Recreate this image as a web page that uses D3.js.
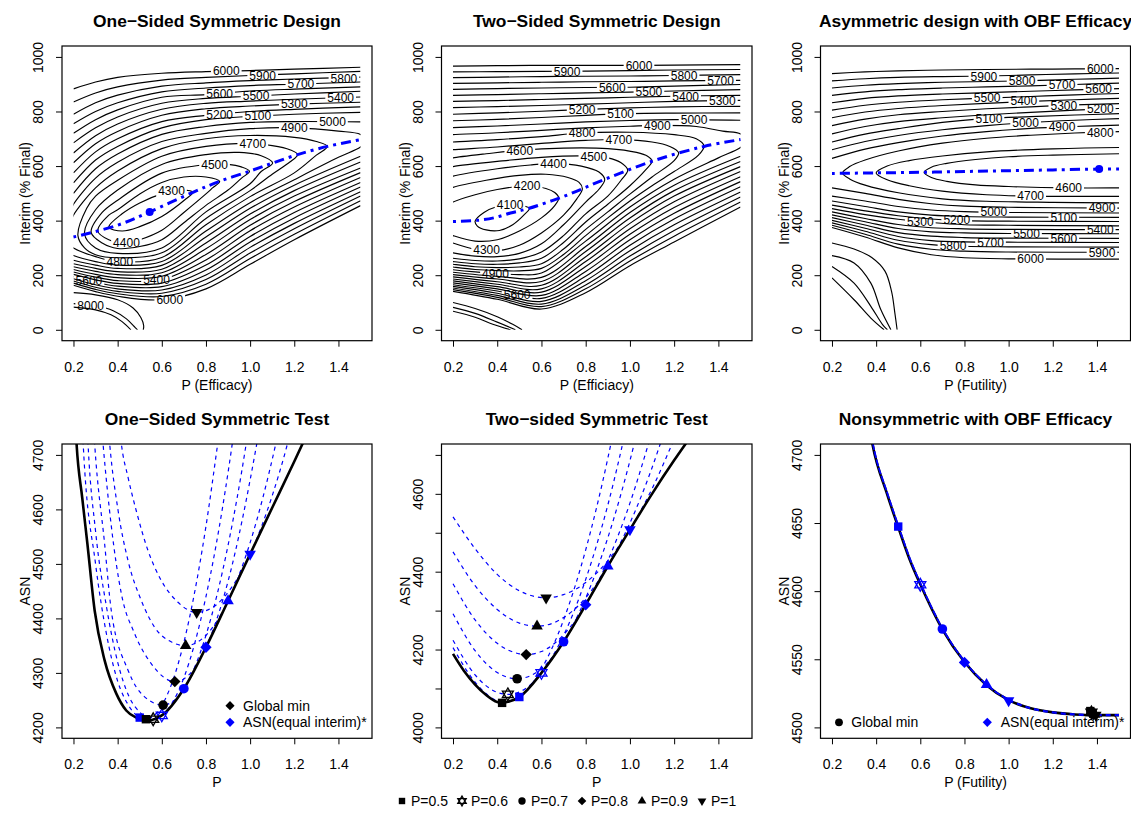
<!DOCTYPE html>
<html><head><meta charset="utf-8">
<script src="https://cdn.jsdelivr.net/npm/d3@7"></script>
<style>body{margin:0;background:#fff}</style>
</head><body><svg id="c" width="1131" height="816"></svg>
<script>
// ---------------- DATA ----------------
// Top-left: One-Sided Symmetric Design
const tlValley=[[0.2,340],[0.395,382],[0.545,432],[0.741,504],[0.862,544],[0.997,581],[1.102,611],[1.215,642],[1.35,672],[1.5,697]];
const tlMin=[0.545,432];
const tlLoopLevels=[4300,4400,4500,4600,4700];
const tlLoopPts=[
 [[0.36,376],[0.42,425],[0.5,465],[0.6,498],[0.68,512],[0.741,504],[0.71,480],[0.6,415],[0.5,378],[0.42,362]],
 [[0.31,362],[0.36,420],[0.4,440],[0.5,498],[0.6,540],[0.7,560],[0.8,560],[0.862,544],[0.83,520],[0.8,498],[0.7,430],[0.6,365],[0.5,330],[0.44,318],[0.36,330]],
 [[0.28,357],[0.33,430],[0.4,475],[0.6,574],[0.8,605],[0.9,606],[0.96,597],[0.997,581],[0.96,555],[0.9,512],[0.8,456],[0.7,392],[0.6,330],[0.5,305],[0.4,298],[0.33,318]],
 [[0.25,352],[0.3,440],[0.4,512],[0.6,606],[0.8,642],[0.95,650],[1.05,638],[1.102,611],[1.05,580],[1.0,535],[0.8,432],[0.6,300],[0.4,280],[0.3,300]],
 [[0.22,346],[0.26,445],[0.3,490],[0.4,548],[0.6,636],[0.8,672],[1.0,683],[1.1,675],[1.18,660],[1.215,642],[1.18,615],[1.1,570],[1.0,510],[0.8,408],[0.6,282],[0.4,264],[0.3,275],[0.25,300]]
];
const tlOpenLevels=[4800,4900,7000,8000,9000];
const tlOpenPts=[
 [[0.19,400],[0.2,420],[0.3,520],[0.4,582],[0.6,664],[0.8,700],[1.0,712],[1.2,705],[1.3,690],[1.35,672],[1.3,640],[1.2,575],[1.0,488],[0.8,385],[0.6,265],[0.4,250],[0.3,268],[0.2,300],[0.19,306]],
 [[0.19,440],[0.2,460],[0.3,556],[0.4,614],[0.6,690],[0.8,720],[1.0,737],[1.2,740],[1.4,728],[1.5,716],[1.53,693],[1.5,670],[1.4,632],[1.2,550],[1.0,466],[0.8,362],[0.6,250],[0.4,237],[0.3,250],[0.2,272],[0.19,276]],
 [[0.2,136],[0.3,128],[0.4,110],[0.47,80],[0.505,45],[0.518,15],[0.516,0]],
 [[0.2,96],[0.3,88],[0.38,70],[0.44,40],[0.475,12],[0.49,0]],
 [[0.2,83],[0.3,73],[0.37,55],[0.42,30],[0.46,0]]
];
const tlBranchLevels=[5000,5100,5200,5300,5400,5500,5600,5700,5800,5900,6000];
const tlCols=[0.2,0.3,0.4,0.6,0.8,1.0,1.2,1.5];
const tlUpperY=[
 [500,590,644,716,745,760,763,762],
 [538,622,672,740,770,782,790,797],
 [575,652,700,763,786,800,808,817],
 [612,682,727,786,810,820,827,834],
 [648,711,754,808,830,838,845,853],
 [685,740,780,830,848,856,864,874],
 [720,770,806,852,862,875,882,890],
 [755,800,832,872,886,895,900,908],
 [790,832,860,893,905,913,919,926],
 [835,868,890,915,925,932,938,947],
 [883,908,925,940,946,950,955,962]
];
const tlLowerY=[
 [255,237,225,236,340,445,530,636],
 [242,225,213,222,318,424,510,615],
 [231,214,202,209,297,404,490,593],
 [221,203,191,196,276,383,470,576],
 [212,193,180,184,256,363,450,558],
 [203,183,170,171,237,342,430,540],
 [195,174,160,158,219,322,410,523],
 [187,165,150,146,201,302,390,506],
 [179,156,141,134,184,281,370,490],
 [171,148,132,122,167,261,350,473],
 [163,140,123,110,150,240,330,455]
];
const tlLabels=[[6000,0.892,949],[5900,1.057,933],[5800,1.425,922],[5700,1.23,901],[5600,0.862,866],[5500,1.027,857],[5400,1.41,851],[5300,1.2,827],[5200,0.862,790],[5100,1.035,783],[5000,1.373,762],[4900,1.2,740],[4700,1.012,683],[4500,0.839,606],[4300,0.644,508],[4400,0.44,318],[4800,0.41,250],[5400,0.576,183],[6000,0.636,112],[8000,0.278,90],[5600,0.27,181]];

// Top-middle: Two-Sided Symmetric Design
const tmValley=[[0.2,397],[0.309,401],[0.384,410],[0.46,428],[0.535,443],[0.701,489],[0.882,550],[1.109,620],[1.335,672],[1.5,697]];
const tmLoopLevels=[4100];
const tmLoopPts=[[[0.30,398],[0.34,430],[0.40,452],[0.46,459],[0.51,455],[0.545,445],[0.52,420],[0.47,385],[0.41,364],[0.35,366],[0.31,380]]];
const tmOpenLevels=[4200,4300,4400,4500,4600,4700,4800,4900,7000,8000,9000];
const tmOpenPts=[
 [[0.19,462],[0.2,468],[0.3,495],[0.4,514],[0.53,527],[0.62,518],[0.66,503],[0.678,483],[0.66,455],[0.6,410],[0.5,362],[0.4,330],[0.3,325],[0.2,345],[0.19,348]],
 [[0.19,518],[0.2,522],[0.35,548],[0.5,566],[0.62,570],[0.72,558],[0.77,540],[0.785,517],[0.76,480],[0.7,420],[0.6,355],[0.5,310],[0.4,290],[0.3,295],[0.2,318],[0.19,321]],
 [[0.19,560],[0.2,563],[0.4,590],[0.55,604],[0.66,609],[0.78,600],[0.86,578],[0.886,550],[0.86,515],[0.8,468],[0.7,385],[0.6,315],[0.5,280],[0.4,268],[0.3,270],[0.2,282],[0.19,284]],
 [[0.19,596],[0.2,598],[0.4,617],[0.6,632],[0.8,637],[0.9,630],[0.96,612],[0.99,585],[0.96,548],[0.9,490],[0.8,425],[0.7,345],[0.6,285],[0.5,260],[0.4,252],[0.3,254],[0.2,262],[0.19,263]],
 [[0.19,628],[0.2,630],[0.35,645],[0.5,658],[0.7,666],[0.9,664],[1.03,650],[1.08,636],[1.1,618],[1.07,585],[1.0,528],[0.9,460],[0.8,395],[0.7,320],[0.6,262],[0.5,245],[0.4,240],[0.3,242],[0.2,250],[0.19,251]],
 [[0.19,659],[0.2,660],[0.4,670],[0.6,683],[0.8,694],[0.95,697],[1.1,688],[1.18,672],[1.22,649],[1.2,620],[1.1,560],[1.0,497],[0.9,432],[0.8,368],[0.7,296],[0.6,242],[0.5,230],[0.4,228],[0.3,231],[0.2,240],[0.19,241]],
 [[0.19,687],[0.2,688],[0.4,697],[0.6,708],[0.78,721],[1.0,724],[1.2,715],[1.3,700],[1.335,673],[1.31,640],[1.2,580],[1.1,528],[1.0,472],[0.9,410],[0.8,345],[0.7,276],[0.6,225],[0.5,216],[0.4,217],[0.3,221],[0.2,230],[0.19,231]],
 [[0.19,714],[0.2,715],[0.4,722],[0.6,731],[0.8,740],[1.0,746],[1.12,749],[1.3,745],[1.42,728],[1.5,718],[1.53,693],[1.5,668],[1.4,630],[1.2,552],[1.0,450],[0.8,325],[0.6,208],[0.5,202],[0.4,206],[0.3,212],[0.2,220],[0.19,221]],
 [[0.2,100],[0.3,78],[0.4,48],[0.47,20],[0.512,0]],
 [[0.2,82],[0.3,60],[0.4,28],[0.482,0]],
 [[0.2,68],[0.3,46],[0.38,20],[0.46,0]]
];
const tmBranchLevels=[5000,5100,5200,5300,5400,5500,5600,5700,5800,5900,6000];
const tmCols=[0.2,0.4,0.6,0.8,1.0,1.2,1.5];
const tmUpperY=[
 [741,747,754,762,767,770,768],
 [766,771,778,786,792,794,795],
 [790,795,801,808,813,817,819],
 [814,818,822,827,832,837,841],
 [837,840,844,848,852,856,859],
 [859,862,865,868,871,875,880],
 [881,884,886,888,889,893,899],
 [903,905,907,909,910,912,914],
 [924,926,928,929,930,932,935],
 [945,946,947,948,950,952,954],
 [966,968,969,969,969,970,972]
];
const tmLowerY=[
 [211,196,192,305,430,530,636],
 [202,186,177,287,410,510,617],
 [194,176,163,268,390,490,598],
 [186,167,150,250,370,469,580],
 [179,158,138,232,350,448,561],
 [172,150,126,214,330,427,543],
 [165,142,115,196,310,406,524],
 [159,134,104,180,290,385,505],
 [153,126,94,164,270,364,487],
 [147,119,85,150,252,343,468],
 [141,112,76,136,235,322,450]
];
const tmLabels=[[6000,1.041,969],[5900,0.716,947],[5800,1.245,932],[5700,1.41,913],[5600,0.92,889],[5500,1.086,873],[5400,1.252,856],[5300,1.418,840],[5200,0.784,808],[5100,0.958,791],[5000,1.29,770],[4900,1.124,749],[4800,0.784,721],[4700,0.95,697],[4600,0.502,658],[4500,0.837,636],[4400,0.655,609],[4200,0.535,527],[4100,0.458,459],[4300,0.352,292],[4900,0.392,206],[5600,0.49,128]];

// Top-right: Asymmetric design with OBF Efficacy
const trValley=[[0.2,573],[0.4,575],[0.6,577],[0.8,580],[1.0,583],[1.2,586],[1.41,589],[1.5,589]];
const trMin=[1.41,589];
const trOpenLevels=[4600,4700,4800,7000,8000,9000,10000];
const trOpenPts=[
 [[1.51,645],[1.5,645],[1.2,640],[1.0,634],[0.85,624],[0.72,610],[0.65,596],[0.617,577],[0.65,558],[0.72,544],[0.85,531],[1.0,525],[1.27,520],[1.5,520],[1.51,520]],
 [[1.51,668],[1.5,668],[1.2,663],[0.9,652],[0.7,637],[0.55,620],[0.45,600],[0.4,575],[0.45,550],[0.55,528],[0.7,508],[0.9,495],[1.1,490],[1.5,489],[1.51,489]],
 [[1.51,726],[1.5,726],[1.3,721],[1.1,713],[0.9,702],[0.7,684],[0.5,655],[0.35,622],[0.28,598],[0.248,575],[0.28,553],[0.35,530],[0.5,502],[0.7,480],[0.9,471],[1.2,467],[1.5,465],[1.51,465]],
 [[0.2,318],[0.3,296],[0.38,265],[0.44,215],[0.47,140],[0.485,60],[0.495,0]],
 [[0.2,272],[0.3,245],[0.376,171],[0.421,74],[0.467,0]],
 [[0.2,232],[0.3,171],[0.376,86],[0.429,19],[0.451,0]],
 [[0.2,190],[0.3,110],[0.376,43],[0.436,0]]
];
const trBranchLevels=[4900,5000,5100,5200,5300,5400,5500,5600,5700,5800,5900,6000];
const trUpperCols=[0.2,0.35,0.5,0.7,0.9,1.1,1.3,1.5];
const trUpperY=[
 [628,662,686,710,726,738,745,750],
 [660,690,712,733,748,760,768,774],
 [688,717,737,760,774,781,787,792],
 [718,745,763,777,788,797,805,811],
 [748,772,788,800,810,817,824,829],
 [777,798,811,822,830,837,843,848],
 [805,823,834,843,849,855,861,866],
 [832,848,857,864,869,874,879,884],
 [859,872,880,886,890,894,899,904],
 [886,896,902,907,910,913,918,922],
 [912,920,925,928,930,934,938,941],
 [939,945,949,952,954,955,956,957]
];
const trLowerCols=[0.2,0.35,0.5,0.65,0.8,1.0,1.5];
const trLowerY=[
 [520,500,478,462,453,449,446],
 [490,472,452,439,433,430,428],
 [472,452,432,420,415,413,412],
 [457,436,418,406,400,398,397],
 [444,422,405,393,385,383,381],
 [432,408,386,374,370,368,367],
 [421,396,371,359,355,353,352],
 [411,384,356,343,338,336,335],
 [401,372,342,327,322,321,320],
 [392,361,328,312,306,304,303],
 [383,350,314,295,288,285,284],
 [375,340,300,275,264,260,259]
];
const trLabels=[[6000,1.415,957],[5900,0.888,929],[5800,1.061,913],[5700,1.242,897],[5600,1.408,882],[5500,0.903,849],[5400,1.069,838],[5300,1.25,823],[5200,1.415,809],[5100,0.911,775],[5000,1.077,759],[4900,1.242,743],[4800,1.415,724],[4600,1.272,520],[4700,1.1,490],[4900,1.423,447],[5000,0.933,431],[5100,1.25,412],[5200,0.765,402],[5300,0.6,398],[5400,1.415,367],[5500,1.081,352],[5600,1.25,335],[5700,0.918,321],[5800,0.748,309],[5900,1.423,284],[6000,1.1,259]];

// Bottom-left: One-Sided Symmetric Test
const blBlack=[[0.205,4790],[0.214,4720],[0.24,4620],[0.263,4537],[0.296,4414],[0.341,4323],[0.394,4262],[0.439,4231],[0.484,4218],[0.54,4213],[0.6,4222],[0.7,4271],[0.8,4347],[0.9,4432],[1.0,4518],[1.1,4603],[1.2,4688],[1.26,4740]];
const blDashed=[
 [[0.236,4800],[0.244,4720],[0.3,4500],[0.35,4370],[0.4,4285],[0.45,4240],[0.5,4218],[0.528,4215],[0.6,4240],[0.7,4356],[0.8,4569],[0.853,4720],[0.88,4800]],
 [[0.257,4800],[0.266,4720],[0.3,4560],[0.35,4420],[0.4,4320],[0.45,4258],[0.5,4228],[0.561,4215],[0.6,4222],[0.7,4291],[0.8,4440],[0.919,4720],[0.95,4812]],
 [[0.284,4800],[0.296,4720],[0.341,4537],[0.371,4415],[0.447,4305],[0.522,4256],[0.606,4241],[0.7,4271],[0.8,4369],[0.9,4534],[0.982,4720],[1.0,4768]],
 [[0.32,4790],[0.334,4720],[0.372,4567],[0.417,4445],[0.477,4372],[0.552,4317],[0.659,4284],[0.7,4289],[0.8,4347],[0.9,4468],[1.03,4720],[1.06,4790]],
 [[0.35,4790],[0.364,4720],[0.402,4598],[0.447,4506],[0.507,4433],[0.567,4384],[0.642,4357],[0.708,4350],[0.8,4369],[0.9,4432],[1.0,4539],[1.116,4720],[1.15,4784]],
 [[0.40,4790],[0.417,4720],[0.447,4659],[0.484,4598],[0.537,4525],[0.597,4470],[0.672,4430],[0.758,4411],[0.85,4426],[0.9,4448],[1.0,4518],[1.1,4625],[1.169,4720],[1.2,4770]]
];
const blGlobal=[[0.528,4215],[0.561,4215],[0.606,4241],[0.659,4284],[0.708,4350],[0.758,4411]];
const blEqual=[[0.5,4218],[0.6,4222],[0.7,4271],[0.8,4347],[0.9,4432],[1.0,4518]];

// Bottom-middle: Two-sided Symmetric Test
const bmBlack=[[0.2,4189],[0.25,4145],[0.3,4110],[0.35,4083],[0.4,4065],[0.422,4063],[0.45,4066],[0.5,4078],[0.6,4140],[0.7,4220],[0.8,4315],[0.9,4414],[1.0,4508],[1.1,4600],[1.2,4686],[1.26,4735]];
const bmDashed=[
 [[0.2,4205],[0.3,4116],[0.4,4068],[0.422,4064],[0.5,4079],[0.6,4150],[0.7,4276],[0.8,4456],[0.9,4691],[0.95,4830]],
 [[0.2,4224],[0.3,4135],[0.4,4090],[0.448,4085],[0.5,4091],[0.6,4141],[0.7,4236],[0.8,4380],[0.9,4571],[1.0,4811]],
 [[0.2,4292],[0.3,4197],[0.4,4141],[0.49,4125],[0.6,4151],[0.7,4221],[0.8,4332],[0.9,4487],[1.0,4685],[1.05,4800]],
 [[0.2,4369],[0.3,4276],[0.4,4216],[0.5,4189],[0.531,4187],[0.6,4195],[0.7,4238],[0.8,4316],[0.9,4428],[1.0,4576],[1.1,4760]],
 [[0.2,4451],[0.3,4364],[0.4,4303],[0.5,4268],[0.58,4260],[0.7,4282],[0.8,4333],[0.9,4415],[1.0,4525],[1.1,4667],[1.15,4750]],
 [[0.2,4541],[0.3,4459],[0.4,4393],[0.5,4351],[0.621,4333],[0.7,4341],[0.8,4372],[0.9,4428],[1.0,4509],[1.1,4613],[1.2,4741]]
];
const bmGlobal=[[0.422,4063],[0.448,4085],[0.49,4125],[0.531,4187],[0.58,4260],[0.621,4333]];
const bmEqual=[[0.5,4078],[0.6,4140],[0.7,4220],[0.8,4315],[0.9,4414],[1.0,4508]];

// Bottom-right: Nonsymmetric with OBF Efficacy
const brCurve=[[0.375,4715],[0.383,4708],[0.45,4671],[0.5,4647],[0.55,4624],[0.6,4605],[0.7,4572],[0.8,4548],[0.9,4531],[1.0,4520],[1.1,4514],[1.2,4511],[1.3,4509.5],[1.4,4509],[1.5,4509]];
const brGlobal=[[1.37,4512],[1.375,4511],[1.38,4510],[1.385,4509.5],[1.39,4509.5],[1.395,4509]];
const brEqual=[[0.5,4647.4],[0.6,4604.7],[0.7,4572.2],[0.8,4547.7],[0.9,4531.3],[1.0,4519.6]];

// legend / ticks
const markerShapes=["square","star","circle","diamond","triUp","triDown"];
const legendLabels=["P=0.5","P=0.6","P=0.7","P=0.8","P=0.9","P=1"];
const xTicks=[0.2,0.4,0.6,0.8,1.0,1.2,1.4];
const interimTicks=[0,200,400,600,800,1000];
const blTicks=[4200,4300,4400,4500,4600,4700];
const bmTicks=[4000,4100,4200,4300,4400,4500,4600,4700];
const brTicks=[4500,4550,4600,4650,4700];

// ---------------- DRAWING ----------------
const W=1131,H=816;
const FONT="'Liberation Sans', Arial, Helvetica, sans-serif";
const BLUE="#0000FF";
const svg=d3.select("#c").attr("font-family",FONT);
svg.append("rect").attr("width",W).attr("height",H).attr("fill","#fff");
const defs=svg.append("defs");
const colsPx=[[62,372],[441.5,752],[820.5,1130.5]];
const topRow=[46,340.7], botRow=[444,738.3];
const xDom=[0.148,1.552];

function panel(ci,row,yDom,id){
  const [l,r]=colsPx[ci],[t,b]=row;
  const x=d3.scaleLinear().domain(xDom).range([l,r]);
  const y=d3.scaleLinear().domain(yDom).range([b,t]);
  return {x,y,l,r,t,b,id};
}
function axes(p,yTicks,yFmt,title,xlab,ylab){
  const gx=svg.append("g").attr("transform",`translate(0,${p.b})`)
    .call(d3.axisBottom(p.x).tickValues(xTicks).tickSize(6).tickFormat(d3.format(".1f")));
  gx.select(".domain").remove();
  gx.attr("font-family",FONT).attr("font-size",14);
  gx.selectAll("line").attr("stroke","#000").attr("stroke-width",1);
  gx.selectAll("text").attr("y",31).attr("dy",null).attr("fill","#000");
  const gy=svg.append("g").attr("transform",`translate(${p.l},0)`)
    .call(d3.axisLeft(p.y).tickValues(yTicks).tickSize(6).tickFormat(yFmt));
  gy.select(".domain").remove();
  gy.attr("font-family",FONT).attr("font-size",14);
  gy.selectAll("line").attr("stroke","#000").attr("stroke-width",1);
  gy.selectAll("text").attr("x",null).attr("dy",null).attr("text-anchor","middle")
    .attr("transform","translate(-19,0) rotate(-90)").attr("fill","#000");
  svg.append("rect").attr("x",p.l).attr("y",p.t).attr("width",p.r-p.l).attr("height",p.b-p.t)
    .attr("fill","none").attr("stroke","#000").attr("stroke-width",1.2);
  const cx=(p.l+p.r)/2;
  svg.append("text").attr("x",cx).attr("y",p.t-19).attr("text-anchor","middle")
    .attr("font-size",17.4).attr("font-weight","bold").text(title);
  svg.append("text").attr("x",cx).attr("y",p.b+49).attr("text-anchor","middle")
    .attr("font-size",14).text(xlab);
  svg.append("text").attr("transform",`translate(${p.l-32},${(p.t+p.b)/2}) rotate(-90)`)
    .attr("text-anchor","middle").attr("font-size",14).text(ylab);
}

function buildPieces(loopLv,loopPts,openLv,openPts,brLv,upCols,upY,lowCols,lowY){
  const out=[];
  loopLv.forEach((L,i)=>out.push({level:L,closed:true,pts:loopPts[i]}));
  openLv.forEach((L,i)=>out.push({level:L,closed:false,pts:openPts[i]}));
  brLv.forEach((L,i)=>{
    out.push({level:L,closed:false,pts:upCols.map((c,j)=>[c,upY[i][j]])});
    out.push({level:L,closed:false,pts:lowCols.map((c,j)=>[c,lowY[i][j]])});
  });
  return out;
}

function contourPanel(p,pieces,labels,valley,dot){
  const clipId="clip-"+p.id;
  defs.append("clipPath").attr("id",clipId).append("rect")
    .attr("x",p.x(0.2)).attr("y",p.y(1000)).attr("width",p.x(1.5)-p.x(0.2)).attr("height",p.y(0)-p.y(1000));
  const g=svg.append("g");
  const cg=g.append("g").attr("clip-path",`url(#${clipId})`);
  const lvls=[...new Set(labels.map(d=>d[0]))];
  lvls.forEach(L=>{
    const m=defs.append("mask").attr("id",`m-${p.id}-${L}`).attr("maskUnits","userSpaceOnUse")
      .attr("x",0).attr("y",0).attr("width",W).attr("height",H);
    m.append("rect").attr("x",0).attr("y",0).attr("width",W).attr("height",H).attr("fill","white");
    labels.filter(d=>d[0]===L).forEach(d=>{
      const w=String(d[0]).length*6.67+4;
      m.append("rect").attr("x",p.x(d[1])-w/2).attr("y",p.y(d[2])-6).attr("width",w).attr("height",12).attr("fill","black");
    });
  });
  pieces.forEach(pc=>{
    const line=d3.line().x(d=>p.x(d[0])).y(d=>p.y(d[1]))
      .curve(pc.closed?d3.curveCatmullRomClosed.alpha(0.5):d3.curveCatmullRom.alpha(0.5));
    const path=cg.append("path").attr("d",line(pc.pts)).attr("fill","none")
      .attr("stroke","#000").attr("stroke-width",1.15);
    if(lvls.includes(pc.level)) path.attr("mask",`url(#m-${p.id}-${pc.level})`);
  });
  labels.forEach(d=>g.append("text").attr("x",p.x(d[1])).attr("y",p.y(d[2])).attr("dy","0.36em")
    .attr("text-anchor","middle").attr("font-size",12).attr("fill","#000").text(d[0]));
  const vline=d3.line().x(d=>p.x(d[0])).y(d=>p.y(d[1])).curve(d3.curveCatmullRom.alpha(0.5));
  g.append("path").attr("d",vline(valley)).attr("fill","none").attr("stroke",BLUE)
    .attr("stroke-width",3).attr("stroke-dasharray","3,5,10,5");
  if(dot) g.append("circle").attr("cx",p.x(dot[0])).attr("cy",p.y(dot[1])).attr("r",4).attr("fill",BLUE);
}

function marker(g,shape,cx,cy,k,color){
  if(shape==="square"){const s=8*k;g.append("rect").attr("x",cx-s/2).attr("y",cy-s/2).attr("width",s).attr("height",s).attr("fill",color);}
  else if(shape==="circle"){g.append("circle").attr("cx",cx).attr("cy",cy).attr("r",4.6*k).attr("fill",color);}
  else if(shape==="diamond"){const s=5.4*k;g.append("path").attr("d",`M${cx},${cy-s}L${cx+s},${cy}L${cx},${cy+s}L${cx-s},${cy}Z`).attr("fill",color);}
  else if(shape==="triUp"||shape==="triDown"){
    const s=11*k,h=s*0.866,sg=shape==="triUp"?1:-1;
    g.append("path").attr("d",`M${cx},${cy-sg*2*h/3}L${cx+s/2},${cy+sg*h/3}L${cx-s/2},${cy+sg*h/3}Z`).attr("fill",color);
  } else if(shape==="star"){
    const s=10.5*k,h=s*0.866;
    g.append("path").attr("d",`M${cx},${cy-2*h/3}L${cx+s/2},${cy+h/3}L${cx-s/2},${cy+h/3}Z M${cx},${cy+2*h/3}L${cx+s/2},${cy-h/3}L${cx-s/2},${cy-h/3}Z`)
      .attr("fill","none").attr("stroke",color).attr("stroke-width",1.3);
  }
}

function curvePanel(p,black,dashed,glob,equal){
  const clipId="clip-"+p.id;
  defs.append("clipPath").attr("id",clipId).append("rect")
    .attr("x",p.l).attr("y",p.t).attr("width",p.r-p.l).attr("height",p.b-p.t);
  const g=svg.append("g").attr("clip-path",`url(#${clipId})`);
  const line=d3.line().x(d=>p.x(d[0])).y(d=>p.y(d[1])).curve(d3.curveMonotoneX);
  dashed.forEach(c=>g.append("path").attr("d",line(c)).attr("fill","none").attr("stroke",BLUE)
    .attr("stroke-width",1.2).attr("stroke-dasharray","4,4"));
  g.append("path").attr("d",line(black)).attr("fill","none").attr("stroke","#000").attr("stroke-width",2.6);
  const mg=svg.append("g");
  equal.forEach((d,i)=>marker(mg,markerShapes[i],p.x(d[0]),p.y(d[1]),1.05,BLUE));
  glob.forEach((d,i)=>marker(mg,markerShapes[i],p.x(d[0]),p.y(d[1]),1.05,"#000"));
}

// --- top row
const pTL=panel(0,topRow,[-40,1040],"tl");
contourPanel(pTL,buildPieces(tlLoopLevels,tlLoopPts,tlOpenLevels,tlOpenPts,tlBranchLevels,tlCols,tlUpperY,tlCols,tlLowerY),tlLabels,tlValley,tlMin);
axes(pTL,interimTicks,d3.format("d"),"One\u2212Sided Symmetric Design","P (Efficacy)","Interim (% Final)");

const pTM=panel(1,topRow,[-40,1040],"tm");
contourPanel(pTM,buildPieces(tmLoopLevels,tmLoopPts,tmOpenLevels,tmOpenPts,tmBranchLevels,tmCols,tmUpperY,tmCols,tmLowerY),tmLabels,tmValley,null);
axes(pTM,interimTicks,d3.format("d"),"Two\u2212Sided Symmetric Design","P (Efficiacy)","Interim (% Final)");

const pTR=panel(2,topRow,[-40,1040],"tr");
contourPanel(pTR,buildPieces([],[],trOpenLevels,trOpenPts,trBranchLevels,trUpperCols,trUpperY,trLowerCols,trLowerY),trLabels,trValley,trMin);
axes(pTR,interimTicks,d3.format("d"),"Asymmetric design with OBF Efficacy","P (Futility)","Interim (% Final)");

// --- bottom row
const pBL=panel(0,botRow,[4180,4720],"bl");
curvePanel(pBL,blBlack,blDashed,blGlobal,blEqual);
axes(pBL,blTicks,d3.format("d"),"One\u2212Sided Symmetric Test","P","ASN");

const pBM=panel(1,botRow,[3972,4728],"bm");
curvePanel(pBM,bmBlack,bmDashed,bmGlobal,bmEqual);
axes(pBM,bmTicks,d=>d%200===0?String(d):"","Two\u2212sided Symmetric Test","P","ASN");

const pBR=panel(2,botRow,[4492,4708],"br");
(function(){
  const p=pBR;
  defs.append("clipPath").attr("id","clip-br").append("rect")
    .attr("x",p.l).attr("y",p.t).attr("width",p.r-p.l).attr("height",p.b-p.t);
  const g=svg.append("g").attr("clip-path","url(#clip-br)");
  const line=d3.line().x(d=>p.x(d[0])).y(d=>p.y(d[1])).curve(d3.curveMonotoneX);
  g.append("path").attr("d",line(brCurve)).attr("fill","none").attr("stroke","#000").attr("stroke-width",2.6);
  g.append("path").attr("d",line(brCurve.filter(d=>d[0]<=1.0))).attr("fill","none").attr("stroke",BLUE)
    .attr("stroke-width",1.8).attr("stroke-dasharray","7,1.5").attr("transform","translate(0.6,0)");
  g.append("path").attr("d",line(brCurve.filter(d=>d[0]>=1.0))).attr("fill","none").attr("stroke",BLUE)
    .attr("stroke-width",2.2).attr("stroke-dasharray","5,4");
  const mg=svg.append("g");
  brEqual.forEach((d,i)=>marker(mg,markerShapes[i],p.x(d[0]),p.y(d[1]),1.05,BLUE));
  brGlobal.forEach((d,i)=>marker(mg,markerShapes[i],p.x(d[0]),p.y(d[1]),1.05,"#000"));
})();
axes(pBR,brTicks,d3.format("d"),"Nonsymmetric with OBF Efficacy","P (Futility)","ASN");

// --- in-panel legends
(function(){
  const g=svg.append("g");
  marker(g,"diamond",230,705.7,0.85,"#000");
  g.append("text").attr("x",243).attr("y",710.7).attr("font-size",14).text("Global min");
  marker(g,"diamond",230,722.3,0.85,BLUE);
  g.append("text").attr("x",243).attr("y",727.3).attr("font-size",14).text("ASN(equal interim)*");
  marker(g,"circle",839,722.3,0.85,"#000");
  g.append("text").attr("x",851.3).attr("y",727.3).attr("font-size",14).text("Global min");
  marker(g,"diamond",987.3,722.3,0.85,BLUE);
  g.append("text").attr("x",1000.7).attr("y",727.3).attr("font-size",14).text("ASN(equal interim)*");
})();

// --- bottom legend
(function(){
  const g=svg.append("g");
  const x0=402, step=60, yc=801;
  legendLabels.forEach((lab,i)=>{
    const cx=x0+i*step;
    marker(g,markerShapes[i],cx,yc,0.8,"#000");
    g.append("text").attr("x",cx+9).attr("y",yc+5).attr("font-size",14).text(lab);
  });
})();
</script></body></html>
